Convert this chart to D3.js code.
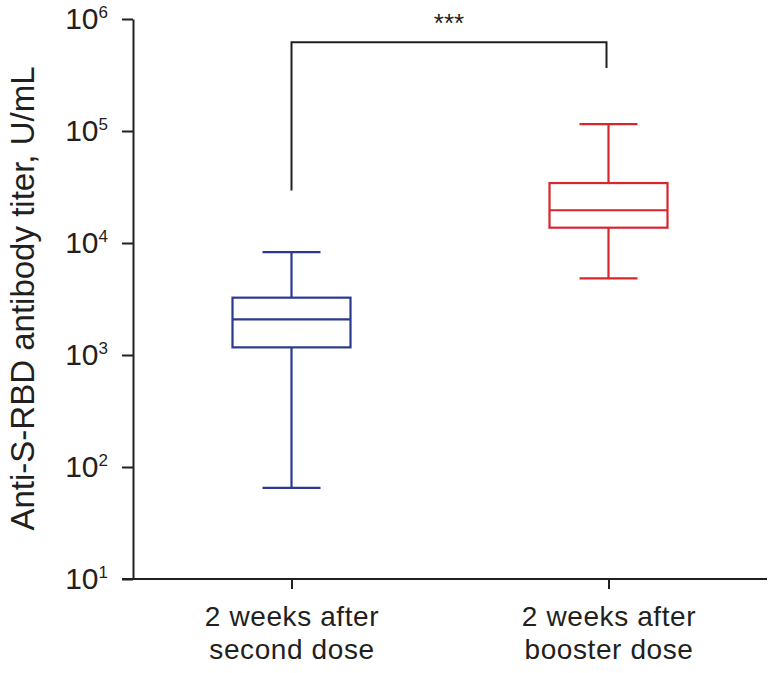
<!DOCTYPE html>
<html>
<head>
<meta charset="utf-8">
<script src="https://cdn.jsdelivr.net/npm/d3@7"></script>
<style>
  html, body { margin: 0; padding: 0; background: #fff; }
  svg { display: block; font-family: "Liberation Sans", Arial, sans-serif; }
</style>
</head>
<body>
<svg id="chart" width="769" height="673"></svg>
<script>
// ---- Data ----
const categories = ["2 weeks after second dose", "2 weeks after booster dose"];
const categoryLines = [["2 weeks after", "second dose"], ["2 weeks after", "booster dose"]];
const whiskerLow = [65, 4840];
const q1 = [1170, 13700];
const median = [2080, 19600];
const q3 = [3250, 34300];
const whiskerHigh = [8300, 115000];
const boxColors = ["#2b3990", "#d7262e"];
const yTicks = [10, 100, 1000, 10000, 100000, 1000000];
const yTickExponents = ["1", "2", "3", "4", "5", "6"];
const bracketLeft = 29500;   // bottom of left leg
const bracketTop = 620000;   // horizontal bar
const bracketRight = 365000; // bottom of right leg
const sigLabel = "***";
const yTitle = "Anti-S-RBD antibody titer, U/mL";

// ---- Layout ----
const svg = d3.select("#chart");
const axisX = 133, axisBottom = 579, axisTop = 19, rightEnd = 767;

const y = d3.scaleLog().domain([10, 1e6]).range([axisBottom, axisTop]);
const x = d3.scalePoint().domain(categories).range([axisX, rightEnd]).padding(0.5);

const ink = "#231f20";

// Y axis
const yAxis = d3.axisLeft(y).tickValues(yTicks).tickSize(11).tickSizeOuter(0).tickPadding(14).tickFormat(() => "");
const gy = svg.append("g").attr("transform", `translate(${axisX},0)`).call(yAxis);
gy.select(".domain").attr("stroke", ink).attr("stroke-width", 2);
gy.selectAll(".tick line").attr("stroke", ink).attr("stroke-width", 2);
gy.selectAll(".tick text").each(function(d, i) {
  const t = d3.select(this);
  t.text(null).attr("fill", ink).attr("font-size", 30).attr("dy", "0.32em").attr("text-anchor", "end");
  t.append("tspan").text("10");
  t.append("tspan").attr("font-size", 17).attr("dy", "-0.65em").text(yTickExponents[i]);
});

// X axis
const xAxis = d3.axisBottom(x).tickSize(10).tickSizeOuter(0).tickFormat(() => "");
const gx = svg.append("g").attr("transform", `translate(0,${axisBottom})`).call(xAxis);
gx.select(".domain").attr("stroke", ink).attr("stroke-width", 2).attr("d", `M${axisX - 11},0H${rightEnd}`);
gx.selectAll(".tick line").attr("stroke", ink).attr("stroke-width", 2);
gx.selectAll(".tick text").remove();
gx.selectAll(".tick").each(function(d, i) {
  const g = d3.select(this);
  categoryLines[i].forEach((ln, j) => {
    g.append("text").attr("x", 0).attr("y", 47 + j * 33)
      .attr("text-anchor", "middle").attr("font-size", 28)
      .attr("letter-spacing", 0.6).attr("fill", ink).text(ln);
  });
});

// Y title
svg.append("text")
  .attr("transform", `translate(34,${(63 + 534) / 2}) rotate(-90)`)
  .attr("text-anchor", "middle").attr("font-size", 33).attr("fill", ink)
  .text(yTitle);

// Boxes
const boxW = 118, capW = 58;
const boxes = svg.append("g").selectAll("g").data(categories).join("g")
  .attr("fill", "none").attr("stroke-width", 2.2)
  .attr("stroke", (d, i) => boxColors[i]);
boxes.each(function(d, i) {
  const g = d3.select(this);
  const cx = x(d);
  // whiskers
  g.append("line").attr("x1", cx).attr("x2", cx).attr("y1", y(whiskerHigh[i])).attr("y2", y(q3[i]));
  g.append("line").attr("x1", cx).attr("x2", cx).attr("y1", y(q1[i])).attr("y2", y(whiskerLow[i]));
  g.append("line").attr("x1", cx - capW / 2).attr("x2", cx + capW / 2).attr("y1", y(whiskerHigh[i])).attr("y2", y(whiskerHigh[i]));
  g.append("line").attr("x1", cx - capW / 2).attr("x2", cx + capW / 2).attr("y1", y(whiskerLow[i])).attr("y2", y(whiskerLow[i]));
  // box
  g.append("rect").attr("x", cx - boxW / 2).attr("width", boxW)
    .attr("y", y(q3[i])).attr("height", y(q1[i]) - y(q3[i]));
  g.append("line").attr("x1", cx - boxW / 2).attr("x2", cx + boxW / 2).attr("y1", y(median[i])).attr("y2", y(median[i]));
});

// Significance bracket
const x0 = x(categories[0]), x1 = x(categories[1]) - 2;
svg.append("path")
  .attr("d", `M${x0},${y(bracketLeft)}V${y(bracketTop)}H${x1}V${y(bracketRight)}`)
  .attr("fill", "none").attr("stroke", ink).attr("stroke-width", 2);
svg.append("text").attr("x", (x0 + x1) / 2).attr("y", 32)
  .attr("text-anchor", "middle").attr("font-size", 26).attr("fill", ink).text(sigLabel);
</script>
</body>
</html>
